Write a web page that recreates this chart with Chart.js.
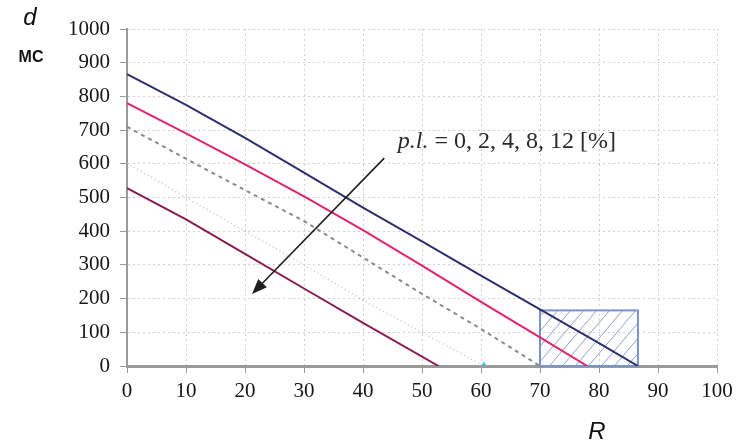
<!DOCTYPE html>
<html>
<head>
<meta charset="utf-8">
<script src="https://cdn.jsdelivr.net/npm/chart.js@4/dist/chart.umd.min.js"></script>
<style>
  html, body { margin: 0; padding: 0; background: #fff; }
  #wrap { width: 739px; height: 447px; position: relative; }
</style>
</head>
<body>
<div id="wrap"><canvas id="c"></canvas></div>
<script>
// Required distance d (mc) against R for packet loss p.l. = 0, 2, 4, 8, 12 %
const rPl0  = [0, 10, 20, 30, 40, 50, 60, 70, 80, 86.6];
const dPl0  = [866, 775, 677, 574, 470, 370, 268, 168, 68, 0];
const rPl2  = [0, 10, 20, 30, 40, 50, 60, 70, 78];
const dPl2  = [780, 690, 598, 503, 403, 298, 190, 85, 0];
const rPl4  = [0, 10, 20, 30, 40, 50, 60, 70];
const dPl4  = [710, 615, 522, 430, 322, 214, 110, 0];
const rPl8  = [0, 10, 20, 30, 40, 50, 60.5];
const dPl8  = [602, 500, 400, 300, 195, 100, 0];
const rPl12 = [0, 10, 20, 30, 40, 52.8];
const dPl12 = [528, 435, 333, 230, 128, 0];

// Highlighted region (R range and d range)
const boxR = [70, 86.6];
const boxD = [0, 165];

// Arrow across the family of curves (tail, head) in R / d units
const arrowR = [43.6, 21.2];
const arrowD = [617, 214];
const noteR = 45.9;
const noteD = 647;

const xTickStep = 10;
const yTickStep = 100;

const pts = (xs, ys) => xs.map((v, i) => ({ x: v, y: ys[i] }));

const hatchPlugin = {
  id: 'hatchBox',
  beforeDatasetsDraw(chart) {
    const { ctx, scales: { x, y } } = chart;
    const l = x.getPixelForValue(boxR[0]), r = x.getPixelForValue(boxR[1]);
    const t = y.getPixelForValue(boxD[1]), b = y.getPixelForValue(boxD[0]);
    const h = b - t;
    ctx.save();
    ctx.beginPath();
    ctx.rect(l, t, r - l, h);
    ctx.clip();
    ctx.strokeStyle = '#8ea3cc';
    ctx.lineWidth = 1;
    for (let s = -h; s < r - l; s += 13) {
      ctx.beginPath();
      ctx.moveTo(l + s, b);
      ctx.lineTo(l + s + h * 0.85, t);
      ctx.stroke();
    }
    ctx.restore();
    ctx.save();
    ctx.strokeStyle = '#7794cc';
    ctx.lineWidth = 2;
    ctx.strokeRect(l, t, r - l, h);
    ctx.restore();
  }
};

const notePlugin = {
  id: 'notes',
  afterDatasetsDraw(chart) {
    const { ctx, scales: { x, y } } = chart;
    // arrow
    const x1 = x.getPixelForValue(arrowR[0]), y1 = y.getPixelForValue(arrowD[0]);
    const x2 = x.getPixelForValue(arrowR[1]), y2 = y.getPixelForValue(arrowD[1]);
    const ang = Math.atan2(y2 - y1, x2 - x1);
    const len = 15, wid = 6;
    ctx.save();
    ctx.strokeStyle = '#1e1e1e';
    ctx.fillStyle = '#1e1e1e';
    ctx.lineWidth = 1.6;
    ctx.beginPath();
    ctx.moveTo(x1, y1);
    ctx.lineTo(x2 - Math.cos(ang) * len * 0.8, y2 - Math.sin(ang) * len * 0.8);
    ctx.stroke();
    ctx.beginPath();
    ctx.moveTo(x2, y2);
    ctx.lineTo(x2 - Math.cos(ang) * len + Math.sin(ang) * wid, y2 - Math.sin(ang) * len - Math.cos(ang) * wid);
    ctx.lineTo(x2 - Math.cos(ang) * len - Math.sin(ang) * wid, y2 - Math.sin(ang) * len + Math.cos(ang) * wid);
    ctx.closePath();
    ctx.fill();

    // annotation text
    const nx = x.getPixelForValue(noteR), ny = y.getPixelForValue(noteD);
    ctx.fillStyle = '#2a2a2a';
    ctx.textBaseline = 'alphabetic';
    ctx.textAlign = 'left';
    ctx.font = 'italic 24px "Liberation Serif"';
    const lead = 'p.l.';
    ctx.fillText(lead, nx, ny);
    const w = ctx.measureText(lead).width;
    ctx.font = '24px "Liberation Serif"';
    ctx.fillText(' = 0, 2, 4, 8, 12 [%]', nx + w, ny);
    ctx.restore();
  },
  afterDraw(chart) {
    const { ctx } = chart;
    ctx.save();
    ctx.fillStyle = '#111';
    ctx.textAlign = 'center';
    ctx.textBaseline = 'middle';
    ctx.font = 'italic 24px "Liberation Sans"';
    ctx.fillText('d', 30, 18);
    ctx.font = 'bold 16px "Liberation Sans"';
    ctx.fillText('MC', 31, 58);
    ctx.font = 'italic 24px "Liberation Sans"';
    ctx.fillText('R', 597, 432);
    ctx.restore();
  }
};

const tickFont = { family: '"Liberation Serif"', size: 21 };

new Chart(document.getElementById('c'), {
  type: 'line',
  data: {
    datasets: [
      { data: pts(rPl0, dPl0), borderColor: '#2d2f6e', borderWidth: 2 },
      { data: pts(rPl2, dPl2), borderColor: '#e2226f', borderWidth: 2 },
      { data: pts(rPl4, dPl4), borderColor: '#8a8a8a', borderWidth: 2, borderDash: [4, 4] },
      {
        data: pts(rPl8, dPl8), borderColor: '#c4c4c4', borderWidth: 1.5, borderDash: [1, 3],
        pointRadius: c => (c.dataIndex === rPl8.length - 1 ? 3 : 0),
        pointBackgroundColor: '#3cb8e8', pointBorderColor: '#3cb8e8', pointStyle: 'triangle'
      },
      { data: pts(rPl12, dPl12), borderColor: '#8a1c50', borderWidth: 2 }
    ]
  },
  options: {
    responsive: true,
    maintainAspectRatio: false,
    animation: false,
    events: [],
    elements: { point: { radius: 0 }, line: { tension: 0 } },
    layout: { padding: { top: 29, right: 22, left: 0, bottom: 0 } },
    plugins: { legend: { display: false }, tooltip: { enabled: false } },
    scales: {
      x: {
        type: 'linear', min: 0, max: 100,
        afterFit: s => { s.height = 81; },
        ticks: { stepSize: xTickStep, font: tickFont, color: '#151515', padding: 6, maxRotation: 0, callback: v => String(v) },
        grid: { color: '#cfcfcf', tickColor: '#9a9a9a', tickLength: 7, lineWidth: 1 },
        border: { color: '#9a9a9a', width: 3, dash: [2, 3] }
      },
      y: {
        type: 'linear', min: 0, max: 1000,
        afterFit: s => { s.width = 127; },
        ticks: { stepSize: yTickStep, font: tickFont, color: '#151515', padding: 10, callback: v => String(v) },
        grid: { color: '#cfcfcf', tickColor: '#9a9a9a', tickLength: 7, lineWidth: 1 },
        border: { color: '#9a9a9a', width: 2, dash: [2, 3] }
      }
    }
  },
  plugins: [hatchPlugin, notePlugin]
});
</script>
</body>
</html>
